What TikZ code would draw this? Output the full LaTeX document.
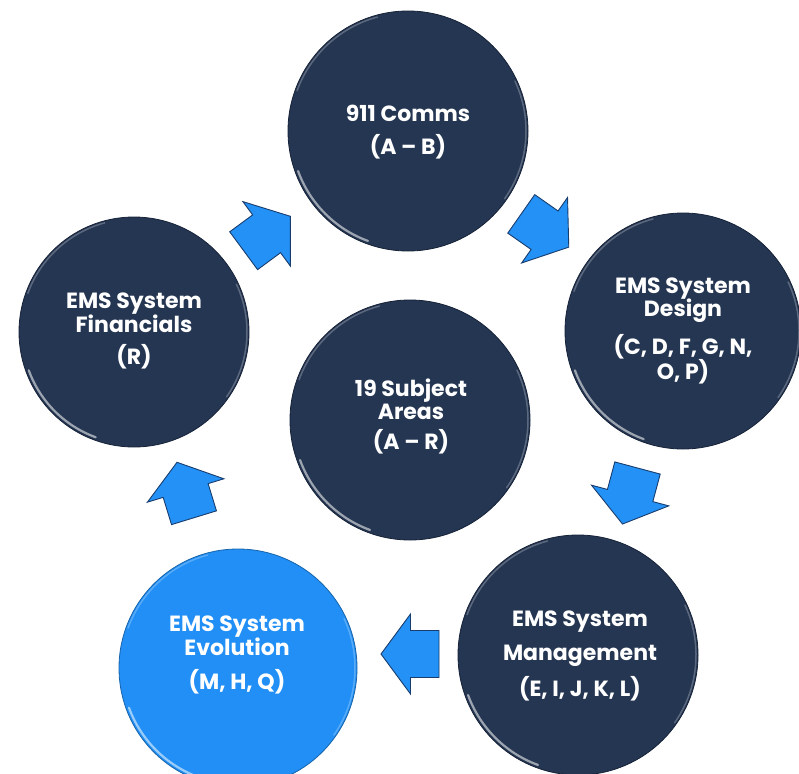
\documentclass[tikz,border=0pt]{standalone}
\usepackage{fontspec}
\setmainfont{Poppins}
\definecolor{navy}{RGB}{37,54,82}
\definecolor{navyrim}{RGB}{22,34,56}
\definecolor{skyblue}{RGB}{33,143,245}
\definecolor{arrowfill}{RGB}{35,145,245}
\definecolor{arrowline}{RGB}{25,60,110}
\tikzset{
  disc/.style={circle, draw=navyrim, line width=0.8pt, fill=navy, inner sep=0pt},
  bluedisc/.style={disc, fill=skyblue, draw=skyblue!70!black},
  lbl/.style={text=white, align=center, font=\bfseries\fontsize{22}{23.5}\selectfont},
  blk/.style={fill=arrowfill, draw=arrowline, line width=0.9pt, line join=miter},
  glossA/.style={draw=white, opacity=0.55, line width=2.2pt, line cap=round},
  glossB/.style={draw=white, opacity=0.25, line width=1.5pt, line cap=round}
}
\newcommand\glossy[2]{%
  \draw[glossA] ([shift={(200:#2-3pt)}]#1.center) arc[start angle=200, end angle=250, radius=#2-3pt];
  \draw[glossB] ([shift={(105:#2-2pt)}]#1.center) arc[start angle=105, end angle=160, radius=#2-2pt];
  \draw[glossB] ([shift={(-35:#2-2pt)}]#1.center) arc[start angle=-35, end angle=25, radius=#2-2pt];
}
\newcommand\blockarr[3]{%
  \draw[blk, shift={(#1,#2)}, rotate=#3]
    (-29,-23.5) -- (-0.5,-23.5) -- (-0.5,-40) -- (29,0) -- (-0.5,40) -- (-0.5,23.5) -- (-29,23.5) -- cycle;
}
\begin{document}
\begin{tikzpicture}[x=1pt,y=1pt]
\useasboundingbox (0,0) rectangle (799,-773);
\begin{scope}
\clip (0,0) rectangle (799,-773);
% circles
\node[disc, minimum size=240pt] (comms) at (408,-131) {};
\node[disc, minimum size=236pt] (design) at (683,-331) {};
\node[disc, minimum size=230pt] (fin) at (134,-332) {};
\node[disc, minimum size=240pt] (subj) at (410,-420) {};
\node[disc, minimum size=240pt] (mgmt) at (578,-655) {};
\node[bluedisc, minimum size=238pt] (evol) at (238,-668) {};
\glossy{comms}{120pt}
\glossy{design}{118pt}
\glossy{fin}{115pt}
\glossy{subj}{120pt}
\glossy{mgmt}{120pt}
\glossy{evol}{119pt}
% labels
\node[lbl] (comms-t) at (408,-132) {911 Comms\\[10pt](A -- B)};
\node[lbl] (design-t) at (683,-331) {EMS System\\Design\\[10pt](C, D, F, G, N,\\O, P)};
\node[lbl] (fin-t) at (134,-331) {EMS System\\Financials\\[9pt](R)};
\node[lbl] (subj-t) at (411,-416) {19 Subject\\Areas\\[6pt](A -- R)};
\node[lbl] (mgmt-t) at (580,-656) {EMS System\\[10pt]Management\\[9pt](E, I, J, K, L)};
\node[lbl] (evol-t) at (237,-655) {EMS System\\Evolution\\[11pt](M, H, Q)};
% block arrows
\blockarr{267}{-233.5}{36.4}
\blockarr{545}{-230.5}{-35}
\blockarr{630}{-496}{-105}
\blockarr{410}{-654}{180}
\blockarr{185.5}{-490}{107}
\end{scope}
\end{tikzpicture}
\end{document}
